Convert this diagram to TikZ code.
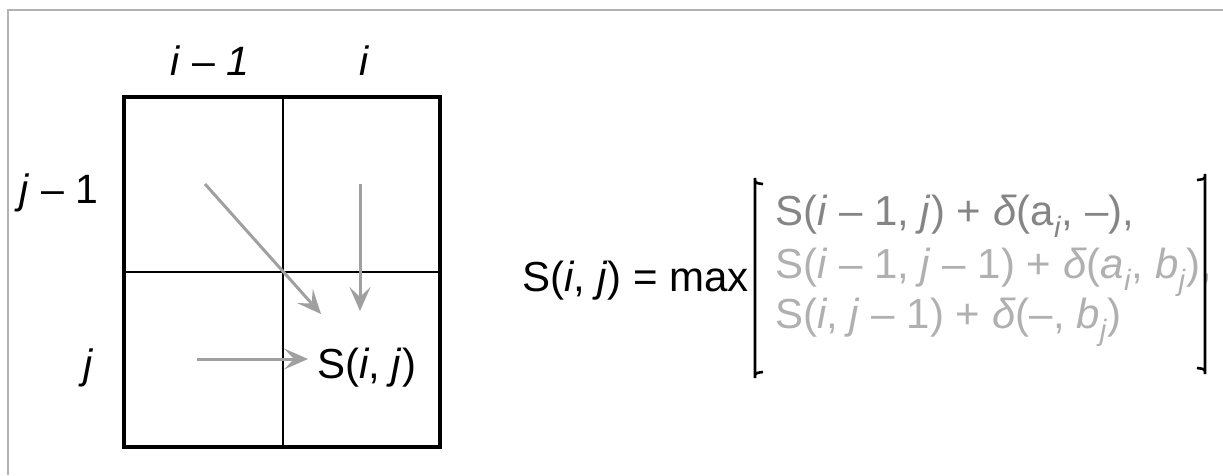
\documentclass[tikz,border=0pt]{standalone}
\usepackage{fontspec}
\setmainfont{Liberation Sans}
\usetikzlibrary{arrows.meta}
\definecolor{arrowgray}{HTML}{A0A0A0}
\definecolor{lineone}{HTML}{858585}
\definecolor{linetwo}{HTML}{B0B0B0}
\begin{document}
\begin{tikzpicture}[x=1pt,y=-1pt,
  lbl/.style={inner sep=0pt, font=\fontsize{41}{46}\selectfont},
  big/.style={inner sep=0pt, font=\fontsize{42}{48}\selectfont},
  arr/.style={draw=arrowgray, line width=3pt, -{Stealth[length=24pt,width=21pt,inset=10pt,fill=arrowgray]}},
  frm/.style={draw=gray!60, line width=1.5pt},
  brk/.style={draw=black, line width=2.6pt}]
\useasboundingbox (0,0) rectangle (1223,475);
% frame
\draw[frm] (8,475) -- (8,10) -- (1223,10);
% grid
\draw[line width=2pt] (283,97) -- (283,447);
\draw[line width=2pt] (124,272) -- (440,272);
\draw[line width=3.5pt] (124,97) rectangle (440,447);
% labels
\node[lbl, anchor=base] (ci1) at (210,75) {\textit{i} – \textit{1}};
\node[lbl, anchor=base] (ci) at (365,75) {\textit{i}};
\node[lbl, anchor=base] (rj1) at (59,203) {\textit{j} – 1};
\node[lbl, anchor=base] (rj) at (89,378) {\textit{j}};
\node[big, anchor=base west] (sij) at (317,378) {S(\textit{i}, \textit{j})};
% arrows
\coordinate (dstart) at (205,184);
\coordinate (dend) at (321,314);
\coordinate (vstart) at (360,184);
\coordinate (vend) at (360,311);
\coordinate (hstart) at (197,359);
\draw[arr] (dstart) -- (dend);
\draw[arr] (vstart) -- (vend);
\draw[arr, shorten >=9pt] (hstart) -- (hstart -| sij.west);
% formula
\node[big, anchor=base east] (lhs) at (749,291) {S(\textit{i}, \textit{j}) = max};
\node[big, anchor=base west, text=lineone] (r1) at (775,225) {S(\textit{i} – 1, \textit{j}) + \textit{δ}(a\textsubscript{\textit{i}}, –),};
\node[big, anchor=base west, text=linetwo] (r2) at (775,278) {S(\textit{i} – 1, \textit{j} – 1) + \textit{δ}(\textit{a}\textsubscript{\textit{i}}, \textit{b}\textsubscript{\textit{j}}),};
\node[big, anchor=base west, text=linetwo] (r3) at (775,328) {S(\textit{i}, \textit{j} – 1) + \textit{δ}(–, \textit{b}\textsubscript{\textit{j}})};
% brackets
\coordinate (lbt) at (755,178);
\coordinate (lbb) at (755,378);
\coordinate (rbt) at (1205,174);
\coordinate (rbb) at (1205,374);
\draw[brk] ([xshift=8pt,yshift=-6pt]lbt) .. controls ([yshift=-5pt]lbt) .. (lbt) -- (lbb) .. controls ([yshift=5pt]lbb) .. ([xshift=8pt,yshift=6pt]lbb);
\draw[brk] ([xshift=-8pt,yshift=-6pt]rbt) .. controls ([yshift=-5pt]rbt) .. (rbt) -- (rbb) .. controls ([yshift=5pt]rbb) .. ([xshift=-8pt,yshift=6pt]rbb);
\end{tikzpicture}
\end{document}
